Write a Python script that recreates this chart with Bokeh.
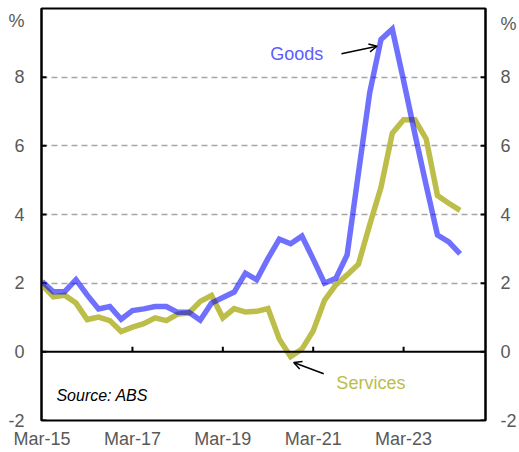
from bokeh.plotting import figure
from bokeh.models import (Range1d, LinearAxis, FixedTicker, Span, Label, Arrow,
                          OpenHead)
from bokeh.embed import file_html
from bokeh.resources import INLINE

# quarterly, Mar-15 .. Jun-24
years = list(range(15, 25))
quarters = [f"{m}-{y}" for y in years for m in ("Mar", "Jun", "Sep", "Dec")][:38]
goods = [2.05, 1.75, 1.75, 2.1, 1.65, 1.25, 1.32, 0.95,
         1.2, 1.25, 1.32, 1.32, 1.15, 1.15, 0.92, 1.42,
         1.58, 1.74, 2.29, 2.1, 2.72, 3.28, 3.15, 3.37,
         2.7, 2.0, 2.14, 2.82, 5.2, 7.55, 9.1, 9.4,
         7.9, 6.35, 4.85, 3.4, 3.2, 2.85]
services = [1.95, 1.6, 1.65, 1.42, 0.94, 1.01, 0.91, 0.59,
            0.72, 0.82, 0.99, 0.91, 1.1, 1.13, 1.47, 1.64,
            0.99, 1.26, 1.16, 1.18, 1.26, 0.37, -0.14, 0.08,
            0.61, 1.5, 1.95, 2.24, 2.55, 3.7, 4.79, 6.37,
            6.76, 6.76, 6.2, 4.55, 4.33, 4.12]
x_tick_labels = ["Mar-15", "Mar-17", "Mar-19", "Mar-21", "Mar-23"]
y_ticks = [-2, 0, 2, 4, 6, 8]
y_tick_labels = ["-2", "0", "2", "4", "6", "8"]
grid_ticks = [2, 4, 6, 8]
unit_label = "%"

x = list(range(len(quarters)))
x_ticks = [quarters.index(l) for l in x_tick_labels]

FONT = "Liberation Sans"
GREY = "#595959"
X0, X1 = -0.05, 39.25

p = figure(width=519, height=452, output_backend="svg", toolbar_location=None,
           x_range=Range1d(X0, X1), y_range=Range1d(-2, 10),
           min_border_left=41, min_border_right=34, min_border_top=8,
           min_border_bottom=32, y_axis_location=None, x_axis_location=None)
p.outline_line_color = "black"
p.outline_line_width = 2
p.background_fill_color = "white"
p.border_fill_color = "white"

for loc, unit_y, standoff in (("left", 9.65, 17), ("right", 9.55, 15)):
    ticks = y_ticks + [unit_y]
    labels = {t: l for t, l in zip(y_ticks, y_tick_labels)}
    labels[unit_y] = unit_label
    ax = LinearAxis(ticker=FixedTicker(ticks=ticks), major_label_overrides=labels)
    ax.axis_line_color = "black"
    ax.axis_line_width = 2
    ax.major_tick_line_color = None
    ax.minor_tick_line_color = None
    ax.major_tick_in = 0
    ax.major_tick_out = 0
    ax.major_label_standoff = standoff
    ax.major_label_text_font = FONT
    ax.major_label_text_font_size = "18px"
    ax.major_label_text_color = GREY
    p.add_layout(ax, loc)

# inward tick marks on both vertical axes
tick_len = 0.44
p.segment(x0=[X0] * len(y_ticks), x1=[X0 + tick_len] * len(y_ticks),
          y0=y_ticks, y1=y_ticks, line_color="black", line_width=2)
p.segment(x0=[X1] * len(y_ticks), x1=[X1 - tick_len] * len(y_ticks),
          y0=y_ticks, y1=y_ticks, line_color="black", line_width=2)

xa = LinearAxis(ticker=FixedTicker(ticks=x_ticks),
                major_label_overrides={t: l for t, l in zip(x_ticks, x_tick_labels)})
xa.axis_line_color = None
xa.major_tick_line_color = None
xa.minor_tick_line_color = None
xa.major_tick_in = 0
xa.major_tick_out = 0
xa.major_label_standoff = 8
xa.major_label_text_font = FONT
xa.major_label_text_font_size = "18px"
xa.major_label_text_color = GREY
p.add_layout(xa, "below")

p.xgrid.grid_line_color = None
p.ygrid.ticker = FixedTicker(ticks=grid_ticks)
p.ygrid.grid_line_color = "#a6a6a6"
p.ygrid.grid_line_dash = "6 4"
p.ygrid.grid_line_width = 1.5

p.add_layout(Span(location=0, dimension="width", line_color="black", line_width=2))
p.segment(x0=x_ticks[1:], x1=x_ticks[1:], y0=[0] * 4, y1=[0.15] * 4,
          line_color="black", line_width=2)

p.line(x, services, line_color="#bdbd4a", line_width=5.5, line_join="miter")
p.line(x, goods, line_color="blue", line_alpha=0.56, line_width=5.5, line_join="miter")

def lab(xv, yv, t, color, size, align="left", style="normal"):
    p.add_layout(Label(x=xv, y=yv, text=t, text_color=color, text_font=FONT,
                       text_font_size=size, text_align=align,
                       text_baseline="middle", text_font_style=style))

lab(20.2, 8.68, "Goods", "#5b5bff", "18px")
lab(26.05, -0.91, "Services", "#bdbd4a", "18px")
lab(1.27, -1.27, "Source: ABS", "black", "16px", style="italic")

p.add_layout(Arrow(end=OpenHead(size=8, line_width=1.5, line_color="black"),
                   x_start=26.5, y_start=8.68, x_end=29.65, y_end=8.9,
                   line_color="black", line_width=1.5))
p.add_layout(Arrow(end=OpenHead(size=8, line_width=1.5, line_color="black"),
                   x_start=24.93, y_start=-0.64, x_end=22.27, y_end=-0.31,
                   line_color="black", line_width=1.5))

open("out.html", "w").write(file_html(p, INLINE))
